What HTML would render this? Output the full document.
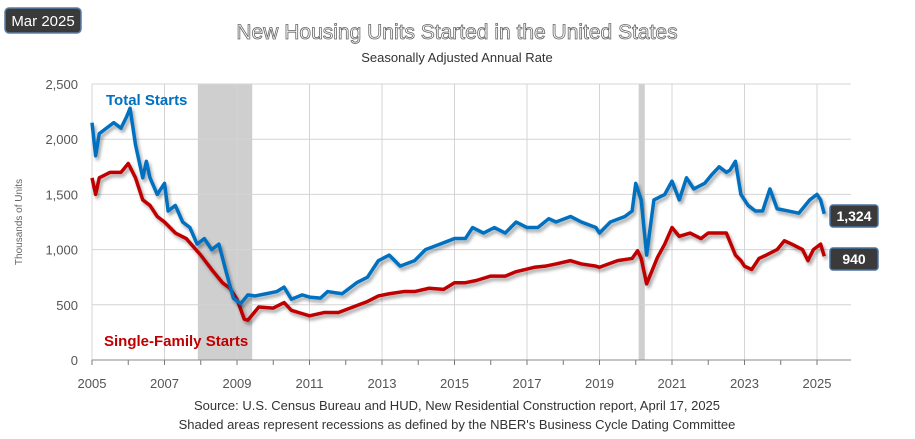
<!DOCTYPE html>
<html><head><meta charset="utf-8"><style>
body{margin:0;background:#fff;font-family:"Liberation Sans",sans-serif;}
svg text{font-family:"Liberation Sans",sans-serif;}
</style></head><body>
<svg width="915" height="434" viewBox="0 0 915 434">
<defs><filter id="sh" x="-5%" y="-5%" width="110%" height="120%"><feDropShadow dx="2" dy="3" stdDeviation="1.5" flood-color="#000" flood-opacity="0.35"/></filter></defs>
<rect x="5" y="8" width="76" height="25" rx="4" fill="#3a3a3a" stroke="#5b7fa6" stroke-width="1.5"/>
<text x="43" y="26" font-size="15" fill="#fff" text-anchor="middle">Mar 2025</text>
<text x="457" y="39" font-size="21" fill="#fff" stroke="#666" stroke-width="0.8" text-anchor="middle">New Housing Units Started in the United States</text>
<text x="457" y="62" font-size="13" fill="#333" text-anchor="middle">Seasonally Adjusted Annual Rate</text>
<text transform="translate(22,222) rotate(-90)" font-size="10" fill="#666" text-anchor="middle">Thousands of Units</text>
<g id="grid"></g>
<g id="series"></g>
<text x="106" y="105" font-size="15" font-weight="bold" fill="#0070c0">Total Starts</text>
<text x="104" y="346" font-size="15" font-weight="bold" fill="#c00000">Single-Family Starts</text>
<rect x="830" y="205" width="48" height="22" rx="3" fill="#3a3a3a" stroke="#4a72a0" stroke-width="1.5"/>
<text x="854" y="221" font-size="14" font-weight="bold" fill="#fff" text-anchor="middle">1,324</text>
<rect x="830" y="248" width="48" height="22" rx="3" fill="#3a3a3a" stroke="#4a72a0" stroke-width="1.5"/>
<text x="854" y="264" font-size="14" font-weight="bold" fill="#fff" text-anchor="middle">940</text>
<text x="457" y="410" font-size="13" fill="#333" text-anchor="middle">Source:  U.S. Census Bureau and HUD, New Residential Construction report, April 17, 2025</text>
<text x="457" y="429" font-size="13" fill="#333" text-anchor="middle">Shaded areas represent recessions as defined by the NBER's Business Cycle Dating Committee</text>
</svg>
<script>
const yTicks=[0,500,1000,1500,2000,2500];
const yTickLabels=["0","500","1,000","1,500","2,000","2,500"];
const xTicks=[2005,2007,2009,2011,2013,2015,2017,2019,2021,2023,2025];
const recessions=[[2007.92,2009.42],[2020.08,2020.25]];
const tDates=[2005,2005.1,2005.2,2005.4,2005.6,2005.8,2005.95,2006.05,2006.2,2006.4,2006.5,2006.6,2006.8,2007.0,2007.1,2007.3,2007.5,2007.7,2007.9,2008.1,2008.3,2008.5,2008.7,2008.9,2009.1,2009.3,2009.5,2009.8,2010.1,2010.3,2010.5,2010.8,2011.0,2011.3,2011.5,2011.9,2012.3,2012.6,2012.9,2013.2,2013.5,2013.9,2014.2,2014.6,2015.0,2015.3,2015.5,2015.8,2016.1,2016.4,2016.7,2017.0,2017.3,2017.6,2017.8,2018.2,2018.5,2018.9,2019.0,2019.3,2019.7,2019.9,2020.0,2020.15,2020.3,2020.5,2020.8,2021.0,2021.2,2021.4,2021.6,2021.9,2022.1,2022.3,2022.5,2022.6,2022.75,2022.9,2023.1,2023.3,2023.5,2023.7,2023.9,2024.2,2024.5,2024.8,2025.0,2025.1,2025.2];
const tValues=[2150,1850,2050,2100,2150,2100,2200,2280,1950,1650,1800,1650,1500,1600,1350,1400,1250,1200,1050,1100,1000,1050,800,560,510,590,580,600,620,660,550,590,570,560,620,600,700,750,900,950,850,900,1000,1050,1100,1100,1200,1150,1200,1150,1250,1200,1200,1280,1250,1300,1250,1200,1150,1250,1300,1350,1600,1450,950,1450,1500,1620,1450,1650,1550,1600,1680,1750,1700,1720,1800,1500,1400,1350,1350,1550,1370,1350,1330,1450,1500,1450,1324];
const sDates=[2005,2005.1,2005.2,2005.5,2005.8,2006.0,2006.2,2006.4,2006.6,2006.8,2007.0,2007.3,2007.6,2008.0,2008.3,2008.6,2008.8,2009.0,2009.2,2009.3,2009.6,2010.0,2010.3,2010.5,2010.8,2011.0,2011.4,2011.8,2012.2,2012.6,2012.9,2013.2,2013.6,2013.9,2014.3,2014.7,2015.0,2015.3,2015.6,2016.0,2016.4,2016.7,2017.2,2017.5,2017.8,2018.2,2018.5,2018.9,2019.0,2019.5,2019.9,2020.05,2020.15,2020.3,2020.6,2020.8,2021.0,2021.2,2021.5,2021.8,2022.0,2022.3,2022.5,2022.75,2022.9,2023.0,2023.2,2023.4,2023.6,2023.9,2024.1,2024.3,2024.6,2024.75,2024.9,2025.1,2025.2];
const sValues=[1650,1500,1650,1700,1700,1780,1650,1450,1400,1300,1250,1150,1100,950,820,700,650,550,370,360,480,470,520,450,420,400,430,430,480,530,580,600,620,620,650,640,700,700,720,760,760,800,840,850,870,900,870,850,840,900,920,990,920,690,930,1050,1200,1120,1150,1100,1150,1150,1150,950,900,850,820,920,950,1000,1080,1050,1000,900,1000,1050,940];
const X0=92,Y0=360,PX=36.25,PY=0.1104,XMAX=851;
const xs=d=>X0+(d-2005)*PX, ys=v=>Y0-v*PY;
const NS="http://www.w3.org/2000/svg";
const grid=document.getElementById('grid'), ser=document.getElementById('series');
function mk(tag,attrs,parent){const e=document.createElementNS(NS,tag);for(const k in attrs)e.setAttribute(k,attrs[k]);parent.appendChild(e);return e;}
recessions.forEach(r=>{const e=mk('rect',{x:xs(r[0]),y:ys(2500),width:xs(r[1])-xs(r[0]),height:ys(0)-ys(2500),fill:'#cfcfcf'},grid);

});
yTicks.forEach((v,i)=>{if(v>0){const l=mk('line',{x1:X0,x2:XMAX,y1:ys(v),y2:ys(v),stroke:'#d4d4d4'},grid);

}
const t=mk('text',{x:X0-14,y:ys(v)+5,'font-size':13,fill:'#555','text-anchor':'end'},grid);t.textContent=yTickLabels[i];

});
xTicks.forEach(y=>{const l=mk('line',{x1:xs(y),x2:xs(y),y1:ys(2500),y2:ys(0),stroke:'#d4d4d4'},grid);


const t=mk('text',{x:xs(y),y:388,'font-size':13,fill:'#555','text-anchor':'middle'},grid);t.textContent=y;

});
for(let y=2005;y<=2025;y++){mk('line',{x1:xs(y),x2:xs(y),y1:Y0,y2:Y0+5,stroke:'#777'},grid);}
const ax=mk('line',{x1:X0,x2:XMAX,y1:Y0,y2:Y0,stroke:'#888'},grid);


function line(d,v,c,name){const p=mk('polyline',{points:d.map((x,i)=>xs(x)+','+ys(v[i])).join(' '),fill:'none',stroke:c,'stroke-width':3.5,'stroke-linejoin':'round',filter:'url(#sh)'},ser);

}
line(sDates,sValues,'#c00000','single-family-starts-line');
line(tDates,tValues,'#0070c0','total-starts-line');
</script>
</body></html>
